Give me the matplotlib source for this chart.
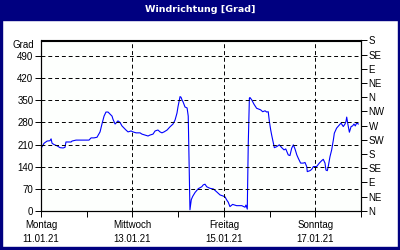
import numpy as np
import matplotlib.pyplot as plt
from matplotlib.patches import Rectangle

# Windrichtung, Stunden ab Montag 11.01.21 00:00
hours = [0, 0.5, 1.6, 3.2, 4.7, 5.3, 5.8, 6.8, 8.4, 10, 11.6, 12.6, 13.1, 14.2, 15.8,
         16.3, 18.4, 20.5, 22.6, 24.2, 25.2, 26.3, 27.8, 29.4, 31, 32, 33.1, 34.1, 35.2,
         36.2, 37.3, 37.8, 38.9, 39.4, 40.4, 41.5, 42.5, 43.6, 44.6, 45.7, 47.3, 48.3,
         49.9, 52, 53, 54.6, 56.2, 57.2, 58.8, 59.9, 61.4, 62.5, 63.5, 64.6, 66.2, 67.7,
         69.3, 70.4, 71.4, 71.9, 72.5, 73, 73.5, 74, 74.6, 75.6, 76.7, 77.3, 78.2, 78.9,
         79.6, 80.9, 82.6, 84.4, 85.2, 86.1, 87, 88.7, 90.5, 92.2, 94, 95.4, 96.6, 97.5,
         98.3, 99.2, 100.6, 102.7, 105.4, 107.1, 107.6, 108.3, 108.8, 109.4, 109.7,
         110.6, 111.8, 113.2, 114.1, 115.3, 116.4, 117.6, 118.5, 119.3, 119.9, 120.6,
         121.1, 122, 122.5, 123.7, 125.1, 126.4, 127.6, 128.5, 129.8, 130.7, 131.6,
         132.5, 133.4, 134.3, 135.1, 136.3, 137.7, 138.6, 139.5, 139.8, 141.2, 142.1,
         143, 144.7, 146.1, 147.4, 148.2, 149.1, 149.6, 150.3, 150.8, 151.7, 152.6,
         153.5, 154, 155.2, 156.6, 157.5, 158.7, 159.6, 160.1, 160.5, 161, 161.9, 162.8,
         163.6, 164.3, 165, 165.7, 166.6]
grad = [212, 202, 214, 221, 222, 228, 214, 210, 206, 200, 199, 201, 218, 218, 218,
        221, 224, 224, 224, 224, 224, 231, 231, 233, 250, 275, 300, 313, 313,
        307, 300, 290, 275, 278, 285, 280, 269, 262, 256, 250, 253, 250,
        247, 247, 243, 240, 237, 240, 243, 253, 256, 250, 247, 250, 256, 266,
        275, 288, 310, 329, 348, 362, 360, 352, 345, 329, 326, 300, 3, 35,
        45, 58, 70, 76, 82, 84, 76, 71, 69, 60, 50, 47, 44, 34,
        27, 13, 20, 16, 16, 11, 18, 5, 209, 357, 359,
        352, 338, 325, 323, 320, 314, 317, 313, 314, 283, 256,
        240, 214, 200, 203, 209, 200, 193, 196, 177, 175, 198,
        209, 195, 177, 166, 151, 151, 153, 140, 124, 127, 131,
        140, 140, 151, 159, 163, 151, 129, 127, 140, 171, 193,
        225, 246, 262, 272, 278, 267, 275, 283, 297, 278, 249, 267,
        269, 275, 269, 278, 275]

day_labels = ['Montag\n11.01.21', '', 'Mittwoch\n13.01.21', '', 'Freitag\n15.01.21', '',
              'Sonntag\n17.01.21', '']
grad_ticks = [0, 70, 140, 210, 280, 350, 420, 490]
dir_labels = ['N', 'NE', 'E', 'SE', 'S', 'SW', 'W', 'NW', 'N', 'NE', 'E', 'SE', 'S']

navy = '#000080'
plt.rcParams['font.family'] = ['Liberation Sans', 'DejaVu Sans']
plt.rcParams['font.size'] = 7

fig = plt.figure(figsize=(4, 2.5), dpi=100)
fig.patch.set_facecolor('white')
ax = fig.add_axes([41/400, 1 - 210.7/250, 320/400, 170.2/250])
ax.set_facecolor('#FDFFFD')

days = np.array(hours) / 24
ax.plot(days, grad, color='#0000FF', lw=0.8)

ax.set_xlim(0, 7)
ax.set_ylim(0, 540)
ax.set_xticks(range(8))
ax.set_xticklabels(day_labels, linespacing=1.45)
ax.set_yticks(grad_ticks)
ax.tick_params(direction='out', length=4, width=0.7, color='black', pad=1.5)
ax.tick_params(axis='x', pad=3)

for v in grad_ticks[1:]:
    ax.axhline(v, color='black', lw=0.7, ls=(0, (4, 3)))
for d in [2, 4, 6]:
    ax.axvline(d, color='black', lw=0.7, ls=(0, (4, 3)))
for s in ax.spines.values():
    s.set_linewidth(0.8)

ax2 = ax.twinx()
ax2.set_ylim(0, 540)
ax2.set_yticks(range(0, 541, 45))
ax2.set_yticklabels(dir_labels)
ax2.tick_params(direction='out', length=4, width=0.7, pad=1.5)

fig.text(34/400, 1 - 45/250, 'Grad', ha='right', va='center')

# Titelleiste und Rahmen
fig.add_artist(Rectangle((0, 1 - 20/250), 1, 20/250, transform=fig.transFigure,
                         color=navy, zorder=0))
fig.add_artist(Rectangle((0, 0), 2/400, 1, transform=fig.transFigure, color=navy))
fig.add_artist(Rectangle((1 - 2/400, 0), 2/400, 1, transform=fig.transFigure, color=navy))
fig.add_artist(Rectangle((0, 0), 1, 3/250, transform=fig.transFigure, color=navy))
fig.text(0.5, 1 - 10/250, 'Windrichtung [Grad]', color='white', fontsize=6.8,
         fontweight='bold', ha='center', va='center', family=['DejaVu Sans'])

fig.savefig('out.png', dpi=100)
